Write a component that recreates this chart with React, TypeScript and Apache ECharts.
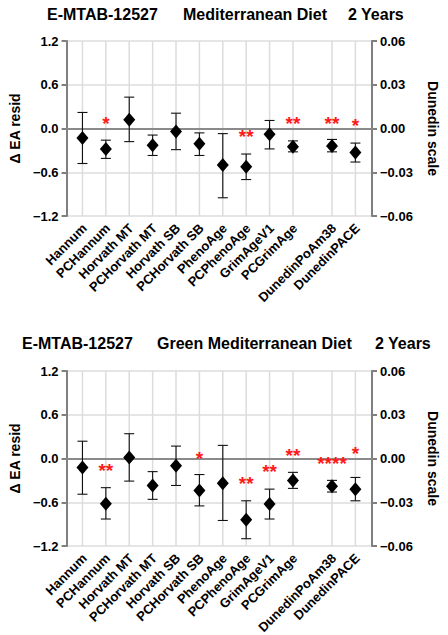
import React, { useEffect, useRef } from "react";
import * as echarts from "echarts";

// Categories along the x axis
const categories = [
  "Hannum",
  "PCHannum",
  "Horvath MT",
  "PCHorvath MT",
  "Horvath SB",
  "PCHorvath SB",
  "PhenoAge",
  "PCPhenoAge",
  "GrimAgeV1",
  "PCGrimAge",
  "DunedinPoAm38",
  "DunedinPACE",
];
// x positions of the categories (the two Dunedin clocks are set apart)
const categoryX = [1, 2, 3, 4, 5, 6, 7, 8, 9, 10, 11.67, 12.67];

// Panel 1: Mediterranean Diet (Δ EA resid, left axis) – first 10 clocks
const medMean = [-0.13, -0.28, 0.12, -0.23, -0.04, -0.21, -0.5, -0.525, -0.08, -0.25];
const medLow = [-0.48, -0.41, -0.18, -0.37, -0.29, -0.37, -0.95, -0.7, -0.28, -0.32];
const medHigh = [0.22, -0.16, 0.43, -0.09, 0.21, -0.06, -0.07, -0.35, 0.11, -0.17];
// Dunedin clocks (Dunedin scale, right axis)
const medDunMean = [-0.012, -0.0165];
const medDunLow = [-0.016, -0.023];
const medDunHigh = [-0.0075, -0.01];
// significance markers
const medStars = ["", "*", "", "", "", "", "", "**", "", "**", "**", "*"];
const medStarY = [0, 0.12, 0, 0, 0, 0, 0, -0.06, 0, 0.12, 0.13, 0.09];

// Panel 2: Green Mediterranean Diet
const greenMean = [-0.123, -0.62, 0.014, -0.37, -0.1, -0.44, -0.34, -0.84, -0.625, -0.3];
const greenLow = [-0.49, -0.83, -0.31, -0.56, -0.37, -0.65, -0.85, -1.1, -0.83, -0.41];
const greenHigh = [0.237, -0.4, 0.34, -0.18, 0.17, -0.22, 0.18, -0.58, -0.42, -0.19];
const greenDunMean = [-0.019, -0.021];
const greenDunLow = [-0.023, -0.029];
const greenDunHigh = [-0.015, -0.013];
const greenStars = ["", "**", "", "", "", "*", "", "**", "**", "**", "****", "*"];
const greenStarY = [0, -0.105, 0, 0, 0, 0.06, 0, -0.29, -0.13, 0.1, -0.02, 0.13];

const titles1 = ["E-MTAB-12527", "Mediterranean Diet", "2 Years"];
const titles2 = ["E-MTAB-12527", "Green Mediterranean Diet", "2 Years"];

const FONT = "'Liberation Sans', Arial, Helvetica, sans-serif";
const X_MIN = 0.32;
const X_MAX = 13.38;
const Y_MIN = -1.2;
const Y_MAX = 1.2;

const minus = (s: string) => s.replace("-", "\u2212");

function errorBarRender(params: any, api: any) {
  const x = api.value(0);
  const lo = api.coord([x, api.value(1)]);
  const hi = api.coord([x, api.value(2)]);
  const w = 5;
  const style = { stroke: "#111", lineWidth: 1.1 };
  return {
    type: "group",
    children: [
      { type: "line", shape: { x1: lo[0], y1: lo[1], x2: hi[0], y2: hi[1] }, style },
      { type: "line", shape: { x1: hi[0] - w, y1: hi[1], x2: hi[0] + w, y2: hi[1] }, style },
      { type: "line", shape: { x1: lo[0] - w, y1: lo[1], x2: lo[0] + w, y2: lo[1] }, style },
    ],
  };
}

function gridLineRender(params: any, api: any) {
  const x = api.value(0);
  const top = api.coord([x, Y_MAX]);
  const bot = api.coord([x, Y_MIN]);
  return {
    type: "line",
    shape: { x1: top[0], y1: top[1], x2: bot[0], y2: bot[1] },
    style: { stroke: "#dcdcdc", lineWidth: 1.5 },
  };
}

function panelSeries(
  g: number,
  mean: number[],
  low: number[],
  high: number[],
  dMean: number[],
  dLow: number[],
  dHigh: number[],
  stars: string[],
  starY: number[]
) {
  const xi = g;
  const yl = g * 2;
  const yr = g * 2 + 1;
  const starData: number[][] = [];
  const starText: string[] = [];
  stars.forEach((s, i) => {
    if (s) {
      starData.push([categoryX[i], starY[i]]);
      starText.push(s);
    }
  });
  const diamondStyle = { color: "#000", opacity: 1 };
  return [
    {
      type: "custom",
      xAxisIndex: xi,
      yAxisIndex: yl,
      z: 1,
      silent: true,
      renderItem: gridLineRender,
      data: categoryX.map((x) => [x, 0]),
    },
    {
      type: "custom",
      xAxisIndex: xi,
      yAxisIndex: yl,
      z: 4,
      renderItem: errorBarRender,
      data: mean.map((_, i) => [categoryX[i], low[i], high[i]]),
    },
    {
      type: "custom",
      xAxisIndex: xi,
      yAxisIndex: yr,
      z: 4,
      renderItem: errorBarRender,
      data: dMean.map((_, i) => [categoryX[10 + i], dLow[i], dHigh[i]]),
    },
    {
      type: "scatter",
      xAxisIndex: xi,
      yAxisIndex: yl,
      z: 5,
      symbol: "diamond",
      symbolSize: [12, 14],
      itemStyle: diamondStyle,
      data: mean.map((m, i) => [categoryX[i], m]),
    },
    {
      type: "scatter",
      xAxisIndex: xi,
      yAxisIndex: yr,
      z: 5,
      symbol: "diamond",
      symbolSize: [12, 14],
      itemStyle: diamondStyle,
      data: dMean.map((m, i) => [categoryX[10 + i], m]),
    },
    {
      type: "custom",
      xAxisIndex: xi,
      yAxisIndex: yl,
      z: 6,
      renderItem: (params: any, api: any) => {
        const p = api.coord([api.value(0), api.value(1)]);
        return {
          type: "text",
          x: p[0],
          y: p[1] + 4,
          style: {
            text: starText[params.dataIndex],
            fill: "#ff1a1a",
            font: `bold 19px ${FONT}`,
            align: "center",
            textAlign: "center",
            verticalAlign: "middle",
            textVerticalAlign: "middle",
          },
        };
      },
      data: starData,
    },
    {
      type: "custom",
      xAxisIndex: xi,
      yAxisIndex: yl,
      z: 6,
      renderItem: (params: any, api: any) => {
        const p = api.coord([api.value(0), Y_MIN]);
        return {
          type: "text",
          x: p[0] + 2,
          y: p[1] + 10,
          rotation: Math.PI / 4,
          style: {
            text: categories[params.dataIndex],
            fill: "#000",
            font: `bold 13px ${FONT}`,
            align: "right",
            textAlign: "right",
            verticalAlign: "middle",
            textVerticalAlign: "middle",
          },
        };
      },
      data: categoryX.map((x) => [x, Y_MIN]),
    },
  ];
}

const axisColor = "#7f7f7f";

function leftAxis(g: number) {
  return {
    type: "value",
    gridIndex: g,
    position: "left",
    min: Y_MIN,
    max: Y_MAX,
    interval: 0.6,
    name: "\u0394 EA resid",
    nameLocation: "middle",
    nameRotate: 90,
    nameGap: 42,
    nameTextStyle: { fontFamily: FONT, fontWeight: "bold", fontSize: 14, color: "#000" },
    axisLine: { show: true, lineStyle: { color: axisColor, width: 2 } },
    axisTick: { show: true, length: 5, lineStyle: { color: axisColor, width: 2 } },
    axisLabel: {
      margin: 8,
      fontFamily: FONT,
      fontWeight: "bold",
      fontSize: 13,
      color: "#000",
      formatter: (v: number) => minus(v.toFixed(1)),
    },
    splitLine: { show: true, lineStyle: { color: "#dcdcdc", width: 1.5 } },
  };
}

function rightAxis(g: number) {
  return {
    type: "value",
    gridIndex: g,
    position: "right",
    min: -0.06,
    max: 0.06,
    interval: 0.03,
    name: "Dunedin scale",
    nameLocation: "middle",
    nameRotate: -90,
    nameGap: 54,
    nameTextStyle: { fontFamily: FONT, fontWeight: "bold", fontSize: 14, color: "#000" },
    axisLine: { show: true, lineStyle: { color: axisColor, width: 2 } },
    axisTick: { show: true, length: 5, lineStyle: { color: axisColor, width: 2 } },
    axisLabel: {
      margin: 8,
      fontFamily: FONT,
      fontWeight: "bold",
      fontSize: 13,
      color: "#000",
      formatter: (v: number) => minus(v.toFixed(2)),
    },
    splitLine: { show: false },
  };
}

function xAxis(g: number) {
  return {
    type: "value",
    gridIndex: g,
    min: X_MIN,
    max: X_MAX,
    z: 3,
    axisLine: { show: true, onZero: true, lineStyle: { color: "#8a8a8a", width: 2 } },
    axisTick: { show: false },
    axisLabel: { show: false },
    splitLine: { show: false },
  };
}

function titleTexts(parts: string[], xs: number[], y: number) {
  return parts.map((t, i) => ({
    type: "text",
    left: xs[i],
    top: y,
    style: {
      text: t,
      fill: "#000",
      font: `bold 16px ${FONT}`,
    },
  }));
}

export default function App() {
  const ref = useRef<HTMLDivElement>(null);
  useEffect(() => {
    if (!ref.current) return;
    const chart = echarts.init(ref.current, undefined, { renderer: "svg" });
    chart.setOption({
      animation: false,
      backgroundColor: "#fff",
      grid: [
        { left: 64, right: 61, top: 41, height: 175 },
        { left: 64, right: 61, top: 371, height: 175 },
      ],
      xAxis: [xAxis(0), xAxis(1)],
      yAxis: [leftAxis(0), rightAxis(0), leftAxis(1), rightAxis(1)],
      graphic: [
        ...titleTexts(titles1, [47, 183, 348], 6),
        ...titleTexts(titles2, [22, 157, 375], 335),
      ],
      series: [
        ...panelSeries(0, medMean, medLow, medHigh, medDunMean, medDunLow, medDunHigh, medStars, medStarY),
        ...panelSeries(1, greenMean, greenLow, greenHigh, greenDunMean, greenDunLow, greenDunHigh, greenStars, greenStarY),
      ],
    });
    return () => chart.dispose();
  }, []);
  return (
    <div
      ref={ref}
      style={{ position: "absolute", left: 0, top: 0, width: 448, height: 635, background: "#fff" }}
    />
  );
}
